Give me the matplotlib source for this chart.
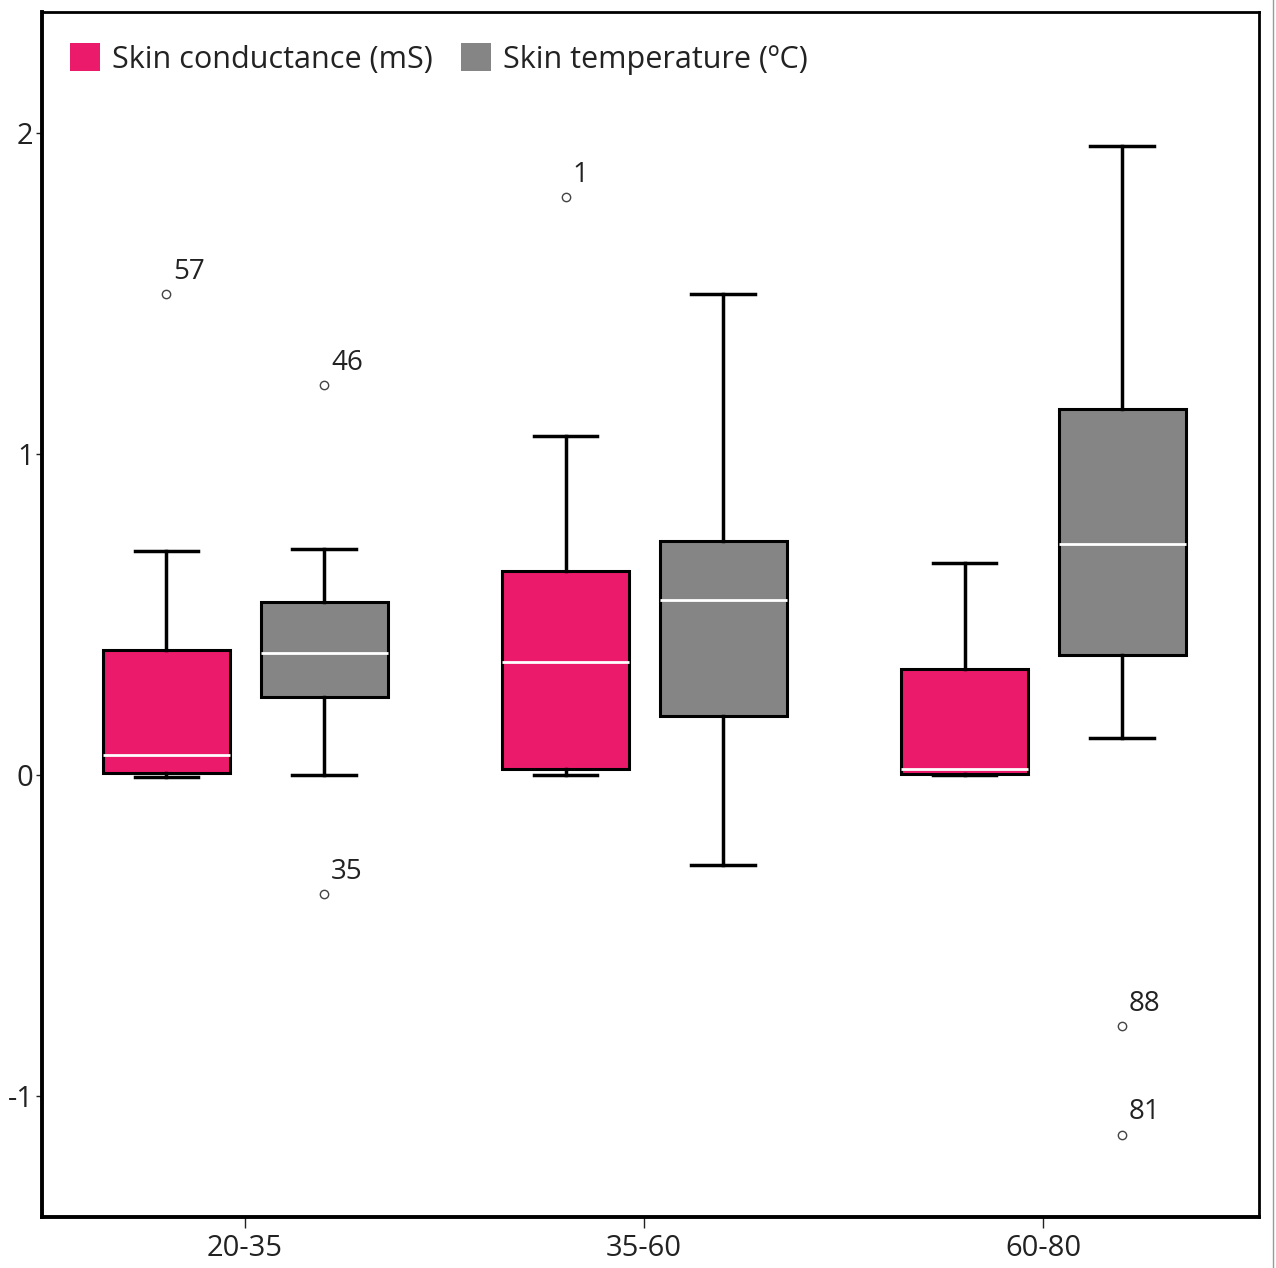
import matplotlib.pyplot as plt
from matplotlib.patches import Patch

plt.rcParams['font.family'] = ['Open Sans', 'DejaVu Sans']

groups = ["20-35", "35-60", "60-80"]
series = ["Skin conductance (mS)", "Skin temperature (ºC)"]
colors = ["#ec1a6b", "#858585"]

# per series, per group: low whisker, q1, median, q3, high whisker
cond_low = [-0.006, 0.0, 0.0]
cond_q1 = [0.006, 0.019, 0.003]
cond_med = [0.062, 0.352, 0.019]
cond_q3 = [0.389, 0.636, 0.330]
cond_high = [0.698, 1.056, 0.660]
cond_out = [[1.498], [1.80], []]
cond_out_ids = [["57"], ["1"], []]

temp_low = [0.0, -0.280, 0.115]
temp_q1 = [0.243, 0.184, 0.374]
temp_med = [0.380, 0.545, 0.720]
temp_q3 = [0.539, 0.729, 1.140]
temp_high = [0.704, 1.498, 1.960]
temp_out = [[1.215, -0.371], [], [-0.782, -1.121]]
temp_out_ids = [["46", "35"], [], ["88", "81"]]

fig = plt.figure(figsize=(12.76, 12.68), dpi=100)
ax = fig.add_axes([42 / 1276, 1 - 1217 / 1268, 1217 / 1276, 1205 / 1268])

offs = [-0.197, 0.198]
data = [(cond_low, cond_q1, cond_med, cond_q3, cond_high, cond_out, cond_out_ids),
        (temp_low, temp_q1, temp_med, temp_q3, temp_high, temp_out, temp_out_ids)]

for s, (lo, q1, med, q3, hi, outs, ids) in enumerate(data):
    stats = []
    for i in range(len(groups)):
        stats.append(dict(whislo=lo[i], q1=q1[i], med=med[i], q3=q3[i], whishi=hi[i], fliers=outs[i]))
    pos = [i + offs[s] for i in range(len(groups))]
    ax.bxp(stats, positions=pos, widths=0.318, patch_artist=True, manage_ticks=False,
           boxprops=dict(facecolor=colors[s], edgecolor="black", linewidth=2.2),
           medianprops=dict(color="white", linewidth=2),
           whiskerprops=dict(color="black", linewidth=2.5),
           capprops=dict(color="black", linewidth=2.5),
           capwidths=0.159,
           flierprops=dict(marker="o", markersize=6, markerfacecolor="white",
                           markeredgecolor="#444444", markeredgewidth=1))
    for i in range(len(groups)):
        for v, lab in zip(outs[i], ids[i]):
            ax.annotate(lab, (pos[i], v), xytext=(5, 6), textcoords="offset points",
                        fontsize=20, color="#222222", va="bottom", ha="left")

ax.set_xlim(-0.509, 2.541)
ax.set_ylim(-1.377, 2.377)
ax.set_xticks(range(len(groups)))
ax.set_xticklabels(groups)
ax.set_yticks([-1, 0, 1, 2])
ax.set_yticklabels(["-1", "0", "1", "2"])
ax.tick_params(axis="both", labelsize=21, length=4, width=1, colors="#222222", pad=2)
ax.tick_params(axis="x", length=8, pad=4)
for side in ["left", "bottom"]:
    ax.spines[side].set_linewidth(2.8)
for side in ["top", "right"]:
    ax.spines[side].set_linewidth(2)

handles = [Patch(facecolor=c, edgecolor="none") for c in colors]
ax.legend(handles, series, loc="upper left", ncol=2, frameon=False, fontsize=22,
          handlelength=1.0, handleheight=1.05, handletextpad=0.4, columnspacing=0.9,
          bbox_to_anchor=(0.0, 0.997), labelcolor="#222222")

fig.add_artist(plt.Line2D([1273 / 1276, 1273 / 1276], [0, 1], color="#999999", linewidth=1))

fig.savefig("out.png", dpi=100)
